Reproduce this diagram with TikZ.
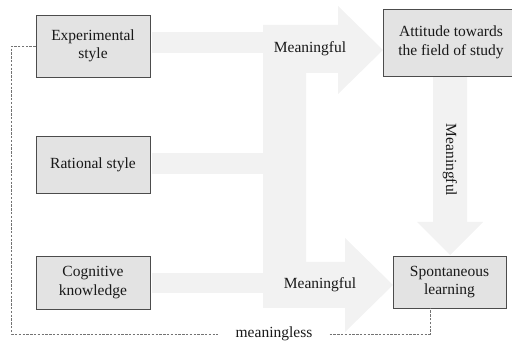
\documentclass[tikz,border=0pt]{standalone}
\usepackage{fontspec}
\setmainfont{Liberation Serif}
\begin{document}
\begin{tikzpicture}[x=1pt,y=-1pt,
  font=\fontsize{15.5}{18.5}\selectfont,
  box/.style={draw=black!70, line width=0.9pt, fill=black!11, align=center,
    text=black!90, inner sep=2pt},
  flow/.style={fill=black!5, draw=none},
  tag/.style={text=black!90, inner sep=1pt},
  weak/.style={draw=black!55, line width=0.8pt, dash pattern=on 2.4pt off 1.4pt}]
\useasboundingbox (0,0) rectangle (512,344);

% broad flow arrows behind the boxes
\path[flow] (152,32) rectangle (264,53);
\path[flow] (152,153) rectangle (264,174);
\path[flow] (152,273) rectangle (264,293);
\path[flow] (263,25) -- (338,25) -- (338,6) -- (383,50) -- (338,94) -- (338,73)
  -- (306,73) -- (306,262) -- (345,262) -- (345,238) -- (393,285) -- (345,332)
  -- (345,308) -- (263,308) -- cycle;
\path[flow] (433,77) -- (467,77) -- (467,222) -- (483,222) -- (450,255)
  -- (417,222) -- (433,222) -- cycle;

% concept boxes
\node[box, minimum width=114pt, minimum height=62pt] (exp) at (93,46) {Experimental\\style};
\node[box, minimum width=114pt, minimum height=57pt] (rat) at (93,164.5) {Rational style};
\node[box, minimum width=114pt, minimum height=53pt] (cog) at (93,282.5) {Cognitive\\knowledge};
\node[box, minimum width=136pt, minimum height=67pt] (att) at (451,42.5) {Attitude towards\\the field of study};
\node[box, minimum width=113pt, minimum height=52pt] (spo) at (449.5,282) {Spontaneous\\learning};

% labels on the flows
\node[tag] (m1) at (310,49) {Meaningful};
\node[tag] (m2) at (320,285) {Meaningful};
\node[tag, rotate=-90] (m3) at (450,160) {Meaningful};

% weak link along the bottom
\node[tag, inner xsep=17pt] (mless) at (274,334) {meaningless};
\draw[weak] (exp.west) -- ++(-24,0) |- (mless.west);
\draw[weak] (mless.east) -| ([xshift=-19.5pt]spo.south);
\end{tikzpicture}
\end{document}
